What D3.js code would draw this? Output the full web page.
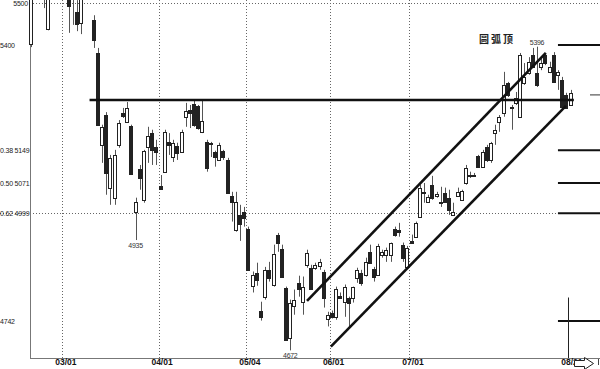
<!DOCTYPE html>
<html>
<head>
<meta charset="utf-8">
<script src="https://cdn.jsdelivr.net/npm/d3@7"></script>
<style>
  body { margin: 0; background: #fff; }
  svg { display: block; }
</style>
</head>
<body>
<svg id="chart" width="600" height="369"></svg>
<script>
// daily candles, one entry per trading day
const opens = [5402,5540,5525,5540,5438,5520,5550,5560,5545,5525,5512,5479,5452,5520,5535,5460,5381,5162,5233,5060,
  5036,5162,5238,5217,5207,5002,5105,5031,5157,5190,5157,5064,5098,5169,5133,5160,5145,5229,5245,5260,
  5255,5193,5169,5167,5145,5126,5148,5126,5040,4960,4995,5002,4962,4826,4857,4767,4800,4864,4829,4948,
  4914,4821,4702,4779,4833,4788,4876,4869,4869,4874,4860,4748,4762,4752,4802,4788,4798,4798,4845,4857,
  4852,4907,4867,4852,4900,4900,4900,4962,4960,4924,4871,4933,4943,4990,5048,5026,5067,5040,5026,5048,
  5036,4995,5040,5031,5071,5091,5089,5136,5110,5157,5126,5190,5217,5238,5310,5251,5262,5229,5310,5333,
  5376,5333,5348,5376,5336,5376,5329,5317,5281,5257]
const highs = [5545,5560,5550,5555,5540,5560,5575,5580,5565,5535,5535,5507,5525,5545,5550,5471,5393,5210,5240,5138,
  5150,5221,5250,5264,5210,5036,5114,5150,5205,5198,5174,5090,5198,5190,5174,5167,5198,5262,5257,5269,
  5257,5269,5174,5169,5148,5167,5150,5131,5050,5050,5019,5014,4967,4860,4881,4788,4871,4883,4924,4952,
  4924,4824,4793,4817,4850,4848,4912,4876,4881,4890,4864,4764,4767,4824,4810,4829,4800,4824,4869,4864,
  4893,4924,4871,4926,4912,4917,4929,4967,4976,4929,4921,4948,4979,5067,5071,5043,5088,5050,5062,5060,
  5055,5024,5060,5055,5114,5098,5095,5138,5150,5162,5169,5210,5233,5336,5312,5257,5288,5381,5357,5371,
  5393,5396,5369,5381,5360,5383,5340,5324,5286,5293]
const lows = [5395,5515,5512,5488,5435,5512,5530,5535,5520,5429,5448,5433,5426,5510,5512,5393,5210,5119,5043,5019,
  5019,5155,5226,5217,5090,4935,5055,5024,5119,5114,5114,5055,5095,5138,5121,5126,5143,5205,5202,5205,
  5198,5190,5098,5133,5110,5124,5126,5045,4979,4955,4933,4967,4864,4810,4826,4743,4793,4836,4824,4907,
  4848,4695,4672,4757,4800,4757,4869,4817,4864,4864,4774,4729,4748,4745,4798,4752,4729,4786,4833,4826,
  4848,4881,4836,4850,4893,4883,4883,4943,4943,4883,4869,4929,4943,4988,5024,5024,5031,5036,5014,5024,
  4995,4993,5038,5029,5067,5083,5086,5107,5107,5121,5119,5162,5193,5229,5276,5198,5257,5229,5305,5329,
  5345,5300,5340,5352,5333,5310,5293,5250,5248,5255]
const closes = [5530,5525,5545,5525,5520,5550,5560,5545,5530,5495,5525,5450,5515,5535,5520,5412,5210,5205,5095,5131,
  5138,5214,5231,5250,5093,5026,5083,5148,5183,5150,5145,5057,5193,5162,5167,5143,5193,5243,5238,5210,
  5202,5219,5107,5165,5133,5162,5133,5048,5026,5026,4974,4988,4864,4852,4840,4752,4864,4845,4902,4929,
  4848,4698,4786,4793,4819,4824,4905,4819,4876,4883,4798,4757,4752,4819,4798,4824,4786,4824,4864,4833,
  4883,4881,4848,4921,4907,4912,4929,4948,4955,4893,4917,4929,4976,5060,5049,5038,5036,5045,5024,5026,
  5007,5002,5050,5052,5107,5089,5091,5110,5145,5126,5167,5198,5229,5305,5281,5249,5274,5376,5324,5360,
  5348,5305,5357,5357,5348,5312,5336,5252,5250,5286]

// month ticks: grid sits half a day before the first trading day
const monthFirstDay = [8, 31, 52, 72, 91, 129]
const monthLabels = ["03/01", "04/01", "05/04", "06/01", "07/01", "08/21"]

// price labels on the left (fibonacci retracements)
const priceLevels = [5500, 5400, 5149, 5071, 4999, 4742]
const priceTexts = ["5500", "5400", "0.38 5149", "0.50 5071", "0.62 4999", "4742"]
const rightLevels = [5400, 5149, 5071, 4999, 4742]

// drawn trend lines: [day, price]
const neckline = [[14, 5269], [129.8, 5269]]
const channelTop = [[66, 4790], [123.1, 5381]]
const channelBottom = [[71.7, 4681], [127.9, 5255]]

// marked extremes
const marks = [{ day: 25, price: 4935, below: true }, { day: 62, price: 4672, below: true }, { day: 121, price: 5396, below: false }]

const W = 600, H = 369, axisY = 358, axisX = 30

const svg = d3.select("#chart")
const x = d3.scaleLinear().domain([0, 129]).range([31, 570.5])
const y = d3.scaleLinear().domain([4742, 5400]).range([321, 45])

const candles = opens.map((o, i) => ({ i, o, h: highs[i], l: lows[i], c: closes[i] }))

// grid
svg.append("g").selectAll("line")
  .data(monthFirstDay.slice(0, 5)).enter()
  .append("line")
  .attr("x1", d => Math.round(x(d - 0.5)) + 0.5)
  .attr("x2", d => Math.round(x(d - 0.5)) + 0.5)
  .attr("y1", 0).attr("y2", axisY)
  .attr("stroke", "#666").attr("stroke-dasharray", "1,2")

svg.append("line")
  .attr("x1", axisX).attr("x2", W)
  .attr("y1", Math.round(y(5500)) + 0.5).attr("y2", Math.round(y(5500)) + 0.5)
  .attr("stroke", "#666").attr("stroke-dasharray", "1,2")
svg.append("line")
  .attr("x1", 0).attr("x2", x(126))
  .attr("y1", Math.round(y(4999)) + 0.5).attr("y2", Math.round(y(4999)) + 0.5)
  .attr("stroke", "#666").attr("stroke-dasharray", "1,2")

// axes lines
svg.append("line").attr("x1", axisX + 0.5).attr("x2", axisX + 0.5).attr("y1", 0).attr("y2", axisY)
  .attr("stroke", "#777")
svg.append("line").attr("x1", axisX).attr("x2", W).attr("y1", axisY + 0.5).attr("y2", axisY + 0.5)
  .attr("stroke", "#777")

// candles
const cg = svg.append("g")
const cx = d => Math.round(x(d.i))
cg.selectAll("line.wick")
  .data(candles).enter()
  .append("line")
  .attr("class", "wick")
  .attr("x1", d => cx(d) + 0.5).attr("x2", d => cx(d) + 0.5)
  .attr("y1", d => y(d.h)).attr("y2", d => y(d.l))
  .attr("stroke", "#555")

cg.selectAll("rect")
  .data(candles).enter()
  .append("rect")
  .attr("x", d => cx(d) - 1.5)
  .attr("width", 3)
  .attr("y", d => Math.round(y(Math.max(d.o, d.c))) + 0.5)
  .attr("height", d => Math.max(1, Math.round(Math.abs(y(d.o) - y(d.c)))))
  .attr("fill", d => d.c >= d.o ? "#fff" : "#222")
  .attr("stroke", "#222")
  .attr("stroke-width", 1)

// trend lines
const line = d3.line().x(d => x(d[0])).y(d => y(d[1]))
;[neckline, channelTop, channelBottom].forEach(pts => {
  svg.append("path").attr("d", line(pts))
    .attr("fill", "none").attr("stroke", "#111").attr("stroke-width", 2.6)
})

// right side level marks
svg.append("g").selectAll("line")
  .data(rightLevels).enter()
  .append("line")
  .attr("x1", x(126)).attr("x2", W)
  .attr("y1", d => y(d)).attr("y2", d => y(d))
  .attr("stroke", "#111").attr("stroke-width", 2)
svg.append("line")
  .attr("x1", 590).attr("x2", W)
  .attr("y1", y(5281)).attr("y2", y(5281))
  .attr("stroke", "#333").attr("stroke-width", 1)
svg.append("line")
  .attr("x1", Math.round(x(128.5)) + 0.5).attr("x2", Math.round(x(128.5)) + 0.5)
  .attr("y1", y(4798)).attr("y2", axisY)
  .attr("stroke", "#222").attr("stroke-width", 1)

// price labels
svg.append("g").selectAll("text")
  .data(priceLevels).enter()
  .append("text")
  .attr("x", (d, i) => i === 0 ? 28 : 0)
  .attr("y", d => y(d) + 2.5)
  .attr("text-anchor", (d, i) => i === 0 ? "end" : "start")
  .attr("font-family", "Liberation Sans, Arial, sans-serif")
  .attr("font-size", 7)
  .attr("letter-spacing", -0.2)
  .attr("fill", "#222")
  .text((d, i) => priceTexts[i])

// month labels through the axis
const xAxis = d3.axisBottom(x)
  .tickValues(monthFirstDay.map(d => d - 0.5))
  .tickFormat((d, i) => monthLabels[i])
  .tickSize(0)
const ax = svg.append("g").attr("transform", `translate(0,${axisY})`).call(xAxis)
ax.select(".domain").remove()
ax.selectAll("text")
  .attr("dx", 3).attr("dy", 3.5)
  .attr("font-family", "Liberation Sans, Arial, sans-serif")
  .attr("font-size", 8.5)
  .attr("font-weight", "bold")
  .attr("fill", "#111")

// extreme values
svg.append("g").selectAll("text")
  .data(marks).enter()
  .append("text")
  .attr("x", d => x(d.day))
  .attr("y", d => d.below ? y(d.price) + 8 : y(d.price) - 2)
  .attr("text-anchor", "middle")
  .attr("font-family", "Liberation Sans, Arial, sans-serif")
  .attr("font-size", 7)
  .attr("letter-spacing", -0.3)
  .attr("fill", "#333")
  .text(d => d.price)

svg.append("text")
  .attr("x", 497).attr("y", 43)
  .attr("text-anchor", "middle")
  .attr("font-family", "Noto Sans CJK SC, sans-serif")
  .attr("font-size", 10)
  .attr("font-weight", "bold")
  .attr("letter-spacing", 2)
  .attr("fill", "#222")
  .text("圆弧顶")

// scroll arrow in the corner
svg.append("path")
  .attr("d", "M574.5,360.5 H584.5 V357.5 L593.5,363.5 L584.5,369.5 V366.5 H574.5 Z")
  .attr("fill", "#fff").attr("stroke", "#222")
svg.append("line").attr("x1", 598.5).attr("x2", 598.5).attr("y1", 359).attr("y2", 365).attr("stroke", "#444")
</script>
</body>
</html>
